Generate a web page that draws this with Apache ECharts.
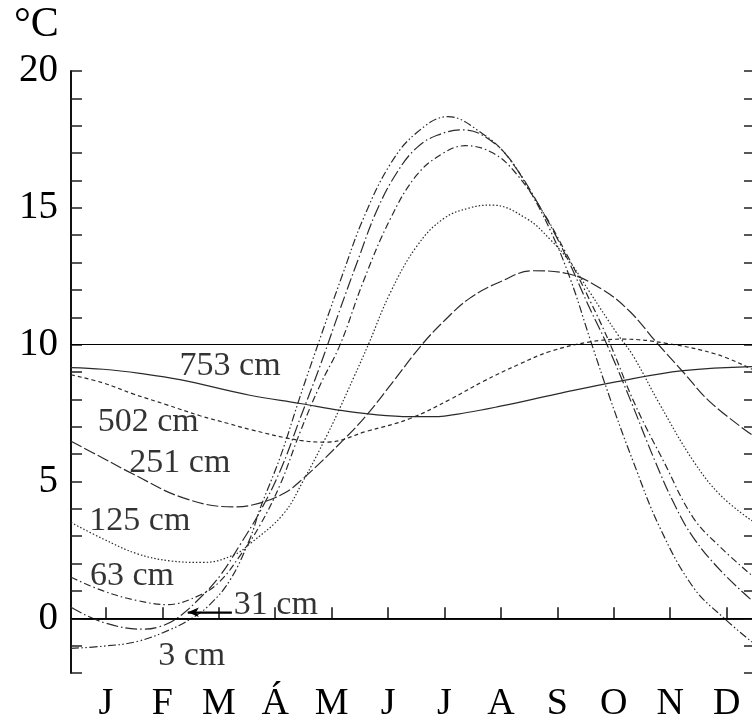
<!DOCTYPE html>
<html>
<head>
<meta charset="utf-8">
<script src="https://cdn.jsdelivr.net/npm/echarts@6/dist/echarts.min.js"></script>
<style>
  html, body { margin: 0; padding: 0; background: #fff; }
  #chart { width: 752px; height: 723px; }
</style>
</head>
<body>
<div id="chart"></div>
<script>
// month labels, ticks sit at month index 1..12
const months = ['J', 'F', 'M', 'Á', 'M', 'J', 'J', 'A', 'S', 'O', 'N', 'D'];
const monthTicks = [1, 2, 3, 4, 5, 6, 7, 8, 9, 10, 11, 12];
const yLabels = [0, 5, 10, 15, 20];
const refLines = [0, 10];

// soil temperature [month index, °C] per depth
const depth3 = [[0.38,-1.1],[0.95,-1.02],[1.55,-0.85],[2.13,-0.42],[2.52,0],[2.84,0.5],[3.20,1.4],[3.55,2.9],[3.73,4.0],[4.09,5.9],[4.44,8.1],[4.79,10.2],[5.20,12.6],[5.56,14.6],[6.04,16.6],[6.51,17.75],[7.06,18.33],[7.68,17.7],[8.11,16.9],[8.46,15.8],[8.87,14.2],[9.23,12.4],[9.58,10.2],[9.94,8.0],[10.34,5.75],[10.82,3.3],[11.41,1.13],[11.94,0.03],[12.45,-0.87]];
const depth31 = [[0.38,0.4],[0.95,-0.15],[1.66,-0.4],[1.96,-0.3],[2.26,0],[2.67,0.75],[3.02,1.55],[3.38,2.7],[3.73,3.9],[4.09,5.4],[4.44,7.3],[4.79,9.2],[5.15,11.3],[5.45,13.0],[5.80,14.9],[6.16,16.3],[6.51,17.2],[6.87,17.65],[7.33,17.85],[7.86,17.4],[8.25,16.5],[8.70,15.0],[9.14,13.3],[9.58,11.3],[9.88,10.0],[10.29,8.0],[10.73,5.75],[11.09,4.1],[11.41,2.95],[11.89,1.75],[12.45,0.65]];
const depth63 = [[0.38,1.5],[0.95,1.0],[1.55,0.65],[2.08,0.5],[2.67,0.85],[3.02,1.35],[3.38,2.3],[3.73,3.4],[4.09,4.9],[4.44,6.8],[4.79,8.5],[5.15,10.0],[5.56,12.3],[6.04,14.6],[6.51,16.2],[6.98,17.0],[7.37,17.27],[7.86,17.0],[8.25,16.3],[8.70,15.0],[9.14,13.4],[9.58,11.6],[9.94,10.0],[10.38,7.8],[10.88,5.75],[11.41,3.67],[11.89,2.6],[12.45,1.56]];
const depth125 = [[0.38,3.5],[0.95,2.9],[1.55,2.36],[2.13,2.1],[2.72,2.04],[3.25,2.3],[3.55,2.72],[4.14,3.8],[4.49,5.0],[4.92,6.7],[5.15,7.7],[5.38,8.75],[5.65,10.0],[6.04,11.9],[6.51,13.6],[6.98,14.6],[7.45,15.0],[7.84,15.1],[8.46,14.6],[8.87,13.85],[9.23,13.0],[9.58,11.9],[10.06,10.4],[10.34,9.6],[10.82,7.8],[11.41,5.75],[11.89,4.5],[12.45,3.56]];
const depth251 = [[0.38,6.47],[0.95,5.85],[1.48,5.27],[2.37,4.4],[3.25,4.07],[3.61,4.15],[4.14,4.55],[4.49,5.1],[5.20,6.5],[5.63,7.45],[6.09,8.65],[6.60,10.0],[7.01,10.9],[7.45,11.7],[7.99,12.3],[8.57,12.7],[9.17,12.6],[9.81,12.0],[10.29,11.2],[10.77,10.05],[11.23,9.0],[11.71,7.9],[12.45,6.7]];
const depth502 = [[0.38,8.9],[0.95,8.6],[1.48,8.2],[2.08,7.8],[2.67,7.4],[3.20,7.1],[3.55,6.9],[4.44,6.5],[4.92,6.44],[5.63,6.84],[6.39,7.3],[7.10,8.0],[7.68,8.65],[8.34,9.3],[8.87,9.75],[9.58,10.1],[10.17,10.2],[10.95,10.04],[11.83,9.64],[12.45,9.1]];
const depth753 = [[0.38,9.16],[0.95,9.1],[1.60,8.95],[2.31,8.72],[3.55,8.15],[4.44,7.85],[5.15,7.6],[5.68,7.46],[6.39,7.37],[6.80,7.37],[7.40,7.52],[7.99,7.75],[9.00,8.2],[10.06,8.65],[11.23,9.05],[12.45,9.2]];

// curve labels and where they sit
const labelNames = ['753 cm', '502 cm', '251 cm', '125 cm', '63 cm', '31 cm', '3 cm'];
const labelPos = [[3.20,9.2],[1.75,7.16],[2.31,5.67],[1.60,3.56],[1.46,1.56],[4.01,0.47],[2.52,-1.38]];
const arrow31 = [[2.45,0.22],[3.23,0.22]];

const serif = "'Liberation Serif', 'Times New Roman', serif";
const ink = '#2a2a2a';

const chart = echarts.init(document.getElementById('chart'));

const curve = (name, data, type) => ({
  name: name,
  type: 'line',
  data: data,
  smooth: 0.4,
  showSymbol: false,
  symbol: 'none',
  silent: true,
  lineStyle: { color: ink, width: 1.2, type: type },
  z: 3
});

const option = {
  animation: false,
  backgroundColor: '#fff',
  title: {
    text: '°C',
    left: 14,
    top: 4,
    padding: 0,
    textStyle: { fontFamily: serif, fontSize: 42, fontWeight: 'normal', color: '#000' }
  },
  grid: { left: 71, right: 0, top: 71, bottom: 49, containLabel: false },
  xAxis: [
    {
      type: 'value',
      min: 0.38,
      max: 12.45,
      position: 'bottom',
      axisLine: { show: true, lineStyle: { color: '#111', width: 2 } },
      axisTick: { show: true, inside: true, length: 11, customValues: monthTicks, lineStyle: { color: '#111', width: 1.5 } },
      axisLabel: {
        show: true,
        customValues: monthTicks,
        margin: 12,
        fontFamily: serif,
        fontSize: 38,
        color: '#000',
        formatter: v => months[Math.round(v) - 1]
      },
      splitLine: { show: false }
    },
    {
      type: 'value',
      min: 0.38,
      max: 12.45,
      position: 'top',
      axisLine: { show: true, lineStyle: { color: '#111', width: 2 } },
      axisTick: { show: false },
      axisLabel: { show: false },
      splitLine: { show: false }
    }
  ],
  yAxis: [
    {
      type: 'value',
      min: -2,
      max: 20,
      interval: 1,
      position: 'left',
      axisLine: { show: true, lineStyle: { color: '#111', width: 2 } },
      axisTick: { show: true, inside: true, length: 11, lineStyle: { color: '#222', width: 1.5 } },
      axisLabel: {
        customValues: yLabels,
        margin: 13,
        fontFamily: serif,
        fontSize: 39,
        color: '#000'
      },
      splitLine: { show: false }
    },
    {
      type: 'value',
      min: -2,
      max: 20,
      interval: 1,
      position: 'right',
      axisLine: { show: false },
      axisTick: { show: true, inside: true, length: 8, lineStyle: { color: '#222', width: 1.5 } },
      axisLabel: { show: false },
      splitLine: { show: false }
    }
  ],
  series: [
    curve('753 cm', depth753, 'solid'),
    curve('502 cm', depth502, [4, 3]),
    curve('251 cm', depth251, [12, 3]),
    curve('125 cm', depth125, [1.5, 2]),
    curve('63 cm', depth63, [7, 3, 1.5, 3]),
    curve('31 cm', depth31, [12, 3, 1.5, 3]),
    curve('3 cm', depth3, [8, 2.5, 1.5, 2.5, 1.5, 2.5]),
    {
      name: 'labels',
      type: 'scatter',
      silent: true,
      symbolSize: 1,
      itemStyle: { color: 'rgba(0,0,0,0)' },
      data: labelPos.map((p, i) => ({ value: p, name: labelNames[i] })),
      label: {
        show: true,
        position: 'inside',
        formatter: p => p.name,
        fontFamily: serif,
        fontSize: 34,
        color: '#000'
      },
      markLine: {
        silent: true,
        symbol: ['none', 'none'],
        label: { show: false },
        lineStyle: { color: '#000', width: 1, type: 'solid' },
        data: refLines.map(v => ({ yAxis: v }))
      },
      z: 5
    },
    {
      name: 'arrow',
      type: 'line',
      data: arrow31,
      showSymbol: false,
      symbol: 'none',
      silent: true,
      lineStyle: { color: '#000', width: 1.6, type: 'solid', opacity: 1 },
      markLine: {
        silent: true,
        symbol: ['arrow', 'none'],
        symbolSize: [7, 11],
        label: { show: false },
        lineStyle: { color: '#000', width: 1.6, type: 'solid' },
        data: [[{ coord: arrow31[0] }, { coord: arrow31[1] }]]
      },
      z: 6
    }
  ]
};

chart.setOption(option);
</script>
</body>
</html>
